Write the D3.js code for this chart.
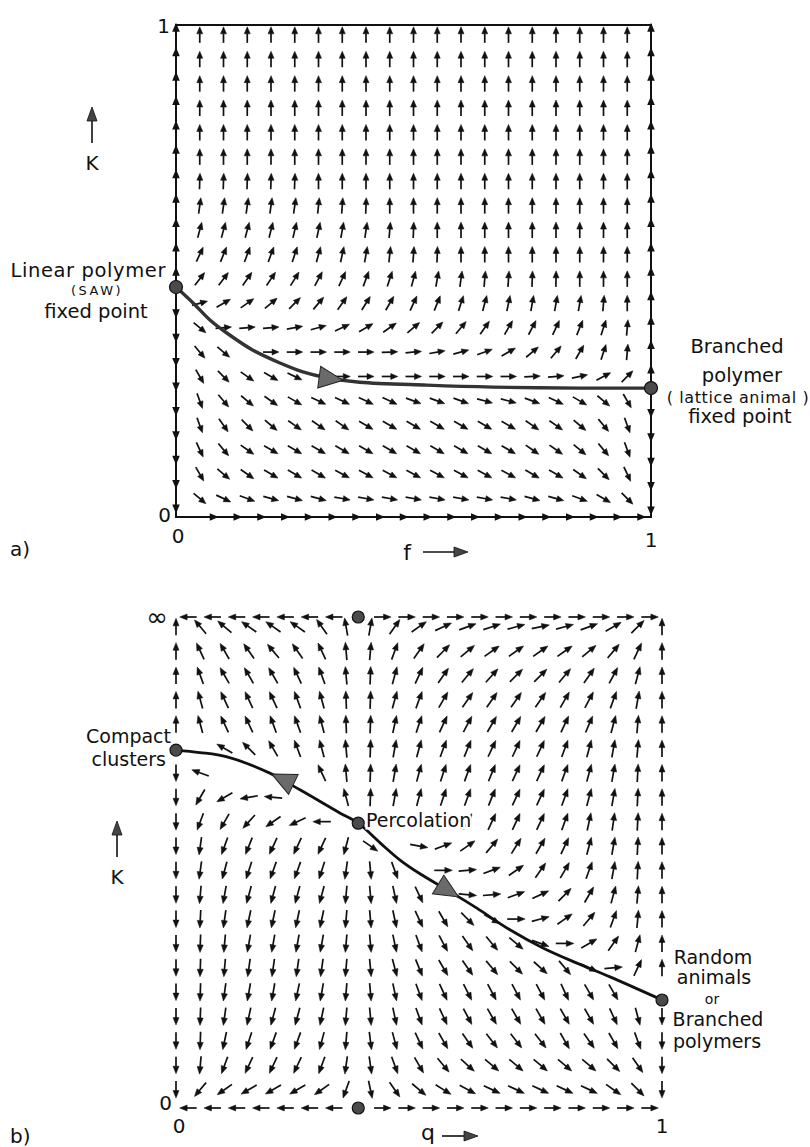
<!DOCTYPE html>
<html>
<head>
<meta charset="utf-8">
<script src="https://cdn.jsdelivr.net/npm/d3@7"></script>
<style>
  html, body { margin: 0; padding: 0; background: #fff; }
  svg { display: block; }
  text { font-family: "DejaVu Sans", sans-serif; fill: #111; }
</style>
</head>
<body>
<svg id="chart" width="810" height="1147"></svg>
<script>
// sample grid shared by both panels: 19 interior columns, 20 rows
const colsT = d3.range(1, 20).map(j => j / 20);
const rowsK = d3.range(20).map(k => 0.98 - 0.0496 * k);

// panel a: arrow directions (degrees, 0 = right, 90 = up), row by row from the top
const anglesA = [
  [90, 90, 90, 90, 90, 90, 90, 90, 90, 90, 90, 90, 90, 90, 90, 90, 90, 90, 90],
  [90, 90, 90, 90, 90, 90, 90, 90, 90, 90, 90, 90, 90, 90, 90, 90, 90, 90, 90],
  [90, 90, 90, 90, 90, 90, 90, 90, 90, 90, 90, 90, 90, 90, 90, 90, 90, 90, 90],
  [90, 90, 90, 90, 90, 90, 90, 90, 90, 90, 90, 90, 90, 90, 90, 90, 90, 90, 90],
  [90, 90, 90, 90, 90, 90, 90, 90, 90, 90, 90, 90, 90, 90, 90, 90, 90, 90, 90],
  [90, 90, 90, 90, 90, 90, 90, 90, 90, 90, 90, 90, 90, 90, 90, 90, 90, 90, 90],
  [88, 88, 88, 88, 88, 90, 90, 90, 90, 90, 90, 90, 90, 90, 90, 90, 90, 90, 90],
  [82, 82, 82, 82, 82, 84, 86, 88, 90, 90, 90, 90, 90, 90, 90, 90, 90, 90, 90],
  [75, 75, 75, 76, 77, 78, 80, 82, 85, 88, 90, 90, 90, 90, 90, 90, 90, 90, 90],
  [65, 68, 70, 70, 72, 75, 78, 80, 84, 86, 88, 90, 90, 90, 90, 90, 90, 90, 90],
  [52, 53, 55, 56, 58, 62, 65, 70, 72, 75, 80, 82, 85, 86, 88, 89, 90, 90, 90],
  [15, 30, 35, 40, 45, 50, 55, 58, 60, 65, 68, 72, 75, 78, 80, 80, 80, 85, 90],
  [-40, 5, 5, 5, 10, 15, 25, 30, 35, 40, 45, 50, 55, 60, 62, 65, 68, 72, 85],
  [-50, -40, null, 0, 0, 0, 0, 0, 2, 5, 10, 15, 20, 30, 40, 50, 60, 72, 85],
  [-60, -45, -35, -30, -25, null, 0, 0, 0, 0, 0, 0, 0, 0, 3, 5, 12, 28, 45],
  [-70, -50, -40, -35, -30, -25, -25, -25, -25, -20, -20, -20, -15, -15, -20, -25, -30, -40, -60],
  [-70, -55, -45, -40, -35, -35, -35, -30, -30, -30, -30, -30, -30, -30, -35, -35, -40, -50, -70],
  [-65, -50, -35, -30, -30, -30, -30, -30, -30, -30, -30, -30, -30, -30, -35, -35, -40, -50, -70],
  [-60, -40, -35, -30, -30, -30, -28, -28, -28, -28, -28, -28, -28, -28, -30, -30, -35, -45, -65],
  [-40, -25, -20, -15, -15, -15, -10, -10, -10, -10, -10, -10, -10, -10, -15, -15, -20, -30, -45]
];

// panel a edge flow: +1 up / right, -1 down / left
const leftEdgeA = [1, 1, 1, 1, 1, 1, 1, 1, 1, 1, 1, -1, -1, -1, -1, -1, -1, -1, -1, -1];
const rightEdgeA = [1, 1, 1, 1, 1, 1, 1, 1, 1, 1, 1, 1, 1, 1, 1, -1, -1, -1, -1, -1];
const bottomEdgeA = [1, 1, 1, 1, 1, 1, 1, 1, 1, 1, 1, 1, 1, 1, 1, 1, 1, 1, 1];

// panel a separatrix (f, K), fixed points and flow arrowhead (f, K, dir)
const curveA = [[0, 0.4675], [0.036, 0.435], [0.072, 0.400], [0.107, 0.374], [0.162, 0.339],
  [0.219, 0.313], [0.267, 0.295], [0.318, 0.283], [0.387, 0.274], [0.528, 0.268],
  [0.667, 0.264], [0.85, 0.262], [1, 0.262]];
const fixedA = [[0, 0.4675], [1, 0.262]];
const flowA = [[0.352, 0.283, 1]];

// panel b: arrow directions (degrees), row by row from the top
const anglesB = [
  [130, 140, 145, 145, 145, 125, 100, 80, 55, 35, 25, 20, 18, 15, 12, 15, 20, 30, 45],
  [115, 120, 125, 130, 125, 115, 95, 85, 70, 55, 45, 40, 35, 35, 35, 35, 40, 50, 65],
  [110, 120, 120, 120, 115, 110, 95, 88, 75, 65, 55, 50, 48, 45, 45, 50, 55, 62, 75],
  [105, 115, 115, 115, 110, 105, 92, 88, 75, 70, 60, 55, 55, 55, 55, 60, 62, 70, 80],
  [105, 115, 115, 110, 110, 105, 92, 88, 78, 72, 65, 62, 60, 60, 60, 65, 67, 75, 85],
  [null, 150, 135, 120, 110, 105, 95, 88, 80, 75, 70, 68, 65, 65, 65, 70, 75, 80, 85],
  [160, null, null, null, null, 115, 95, 88, 80, 75, 72, 70, 68, 65, 65, 70, 75, 80, 87],
  [240, 210, 190, 175, null, null, 105, 88, 80, 75, 72, 70, 68, 65, 65, 70, 75, 80, 87],
  [250, 240, 228, 215, 205, 180, null, null, 55, 55, 60, 62, 65, 65, 65, 70, 78, 82, 87],
  [262, 250, 248, 245, 245, 245, 255, 325, null, 350, 20, 35, 50, 58, 60, 65, 75, 80, 87],
  [262, 255, 252, 250, 250, 252, 262, 275, 290, null, 0, 5, 20, 35, 55, 60, 70, 80, 87],
  [265, 260, 255, 255, 255, 255, 265, 275, 282, 295, null, 355, 5, 20, 25, 45, 60, 75, 85],
  [267, 262, 258, 258, 258, 258, 265, 275, 282, 295, 300, 315, 330, 0, 15, 35, 50, 70, 85],
  [268, 265, 260, 260, 260, 260, 265, 275, 282, 290, 298, 305, 310, 320, 340, 0, 30, 55, 75],
  [268, 265, 262, 262, 262, 262, 265, 275, 285, 292, 300, 305, 310, 315, 318, 310, 335, 5, 65],
  [268, 262, 260, 260, 258, 260, 265, 275, 282, 290, 295, 297, 298, 298, 298, 295, 300, 300, null],
  [268, 262, 258, 255, 255, 258, 265, 275, 282, 290, 295, 298, 300, 300, 300, 300, 300, 295, 285],
  [268, 258, 252, 250, 250, 255, 265, 277, 285, 295, 300, 305, 308, 308, 308, 300, 305, 300, 290],
  [265, 250, 245, 245, 245, 250, 262, 278, 290, 300, 310, 318, 320, 320, 320, 320, 320, 315, 305],
  [230, 215, 210, 210, 210, 215, 250, 282, 305, 320, 328, 332, 335, 335, 335, 335, 335, 325, 315]
];

// panel b edge flow (0 = fixed point there)
const leftEdgeB = [1, 1, 1, 1, 1, 0, -1, -1, -1, -1, -1, -1, -1, -1, -1, -1, -1, -1, -1, -1];
const rightEdgeB = [1, 1, 1, 1, 1, 1, 1, 1, 1, 1, 1, 1, 1, 1, 1, 0, -1, -1, -1, -1];
const topEdgeB = [-1, -1, -1, -1, -1, -1, -1, 0, 1, 1, 1, 1, 1, 1, 1, 1, 1, 1, 1, 1];
const bottomEdgeB = [-1, -1, -1, -1, -1, -1, -1, 0, 1, 1, 1, 1, 1, 1, 1, 1, 1, 1, 1, 1];

const curveB = [[0, 0.729], [0.049, 0.724], [0.105, 0.715], [0.193, 0.682], [0.255, 0.648],
  [0.337, 0.601], [0.375, 0.58], [0.420, 0.540], [0.461, 0.505], [0.502, 0.477],
  [0.558, 0.444], [0.619, 0.407], [0.687, 0.363], [0.755, 0.326], [0.825, 0.295],
  [0.893, 0.267], [1, 0.22]];
const fixedB = [[0.375, 1], [0.375, 0], [0, 0.729], [0.375, 0.58], [1, 0.22]];
const flowB = [[0.198, 0.682, -1], [0.578, 0.424, 1]];

const svg = d3.select('#chart');

const xA = d3.scaleLinear().domain([0, 1]).range([176, 651]);
const yA = d3.scaleLinear().domain([0, 1]).range([517, 25]);
const xB = d3.scaleLinear().domain([0, 1]).range([176, 662]);
const yB = d3.scaleLinear().domain([0, 1]).range([1108, 617]);

function vectors(angles) {
  const out = [];
  angles.forEach((row, k) => row.forEach((deg, i) => {
    if (deg !== null) out.push({c: colsT[i], r: rowsK[k], deg: deg});
  }));
  return out;
}

function arrows(g, data, x, y, len, hl, hw, sw) {
  const a = g.append('g').selectAll('g').data(data).join('g')
    .attr('transform', d => `translate(${x(d.c)},${y(d.r)}) rotate(${-d.deg})`);
  a.append('line')
    .attr('x1', -len / 2).attr('x2', len / 2 - hl + 0.5)
    .attr('stroke', '#111').attr('stroke-width', sw);
  a.append('path')
    .attr('d', `M${len / 2},0L${len / 2 - hl},${-hw / 2}L${len / 2 - hl},${hw / 2}Z`)
    .attr('fill', '#111').attr('stroke', '#111').attr('stroke-width', 0.5)
    .attr('stroke-linejoin', 'round');
}

function flowCurve(g, pts, flows, x, y, stroke, sw) {
  const path = g.append('path').datum(pts)
    .attr('d', d3.line().x(d => x(d[0])).y(d => y(d[1])).curve(d3.curveCatmullRom.alpha(0.5)))
    .attr('fill', 'none').attr('stroke', stroke).attr('stroke-width', sw)
    .attr('stroke-linecap', 'round');
  const node = path.node();
  const total = node.getTotalLength();
  flows.forEach(([c, r, dir]) => {
    const px = x(c), py = y(r);
    let best = 0, bd = Infinity;
    for (let s = 0; s <= total; s += 0.5) {
      const p = node.getPointAtLength(s);
      const dd = (p.x - px) ** 2 + (p.y - py) ** 2;
      if (dd < bd) { bd = dd; best = s; }
    }
    const p0 = node.getPointAtLength(Math.max(0, best - 6));
    const p1 = node.getPointAtLength(Math.min(total, best + 6));
    const ang = Math.atan2(p1.y - p0.y, p1.x - p0.x) * 180 / Math.PI + (dir < 0 ? 180 : 0);
    const tip = node.getPointAtLength(best);
    g.append('path')
      .attr('transform', `translate(${tip.x},${tip.y}) rotate(${ang})`)
      .attr('d', 'M0,0L-24,-11L-24,11Z')
      .attr('fill', '#6a6a6a').attr('stroke', '#222').attr('stroke-width', 1);
  });
}

function fixedPoints(g, pts, x, y, r) {
  g.append('g').selectAll('circle').data(pts).join('circle')
    .attr('cx', d => x(d[0])).attr('cy', d => y(d[1])).attr('r', r)
    .attr('fill', '#4a4a4a').attr('stroke', '#111').attr('stroke-width', 1.2);
}

function label(txt, x, y, size, anchor, spacing) {
  return svg.append('text').attr('x', x).attr('y', y)
    .attr('font-size', size).attr('text-anchor', anchor || 'start')
    .attr('letter-spacing', spacing || 0).text(txt);
}

function axisArrow(x1, y1, x2, y2) {
  const ang = Math.atan2(y2 - y1, x2 - x1) * 180 / Math.PI;
  const len = Math.hypot(x2 - x1, y2 - y1);
  const g = svg.append('g').attr('transform', `translate(${x1},${y1}) rotate(${ang})`);
  g.append('line').attr('x1', 0).attr('x2', len - 10).attr('stroke', '#111').attr('stroke-width', 1.6);
  g.append('path').attr('d', `M${len},0L${len - 14},-5L${len - 14},5Z`)
    .attr('fill', '#444').attr('stroke', '#111').attr('stroke-width', 0.8);
}

// ---------- panel a ----------
const gA = svg.append('g');
gA.append('rect')
  .attr('x', xA(0)).attr('y', yA(1))
  .attr('width', xA(1) - xA(0)).attr('height', yA(0) - yA(1))
  .attr('fill', 'none').attr('stroke', '#111').attr('stroke-width', 2);

const headsA = [];
leftEdgeA.forEach((d, k) => headsA.push({px: xA(0), py: yA(rowsK[k]) + (d > 0 ? -7 : 10), rot: d > 0 ? -90 : 90}));
rightEdgeA.forEach((d, k) => headsA.push({px: xA(1), py: yA(rowsK[k]) + (d > 0 ? -7 : 12), rot: d > 0 ? -90 : 90}));
bottomEdgeA.forEach((d, i) => headsA.push({px: xA(colsT[i]) + 14, py: yA(0), rot: d > 0 ? 0 : 180}));
gA.append('g').selectAll('path').data(headsA).join('path')
  .attr('transform', d => `translate(${d.px},${d.py}) rotate(${d.rot})`)
  .attr('d', 'M5,0L-4,-3.8L-4,3.8Z').attr('fill', '#111');

arrows(gA, vectors(anglesA), xA, yA, 16, 7, 6, 1.7);
flowCurve(gA, curveA, flowA, xA, yA, '#333', 3.4);
fixedPoints(gA, fixedA, xA, yA, 6.5);

label('1', 170, 33, 20, 'end');
label('0', 171, 522, 20, 'end');
label('0', 178, 543, 20, 'middle');
label('1', 651, 547, 20, 'middle');
label('f', 407, 560, 22, 'middle');
axisArrow(423, 552, 468, 552);
axisArrow(92, 143, 92, 107);
label('K', 92, 170, 20, 'middle');
label('a)', 10, 556, 20);

label('Linear polymer', 166, 277, 19.5, 'end', 0.6);
label('(SAW)', 97, 295, 13, 'middle', 2.5);
label('fixed point', 96, 318, 19.5, 'middle');
label('Branched', 737, 353, 19.5, 'middle');
label('polymer', 742, 382, 19.5, 'middle');
label('( lattice animal )', 738, 403, 16, 'middle', 0.6);
label('fixed point', 740, 423, 19.5, 'middle');

// ---------- panel b ----------
const gB = svg.append('g');
arrows(gB, vectors(anglesB), xB, yB, 18, 7.5, 6, 1.7);

const edgeB = [];
leftEdgeB.forEach((d, k) => { if (d) edgeB.push({c: 0, r: rowsK[k], deg: d > 0 ? 90 : 270}); });
rightEdgeB.forEach((d, k) => { if (d) edgeB.push({c: 1, r: rowsK[k], deg: d > 0 ? 90 : 270}); });
topEdgeB.forEach((d, j) => { if (d) edgeB.push({c: (j + 0.5) / 20, r: 1, deg: d > 0 ? 0 : 180}); });
bottomEdgeB.forEach((d, j) => { if (d) edgeB.push({c: (j + 0.5) / 20, r: 0, deg: d > 0 ? 0 : 180}); });
arrows(gB, edgeB, xB, yB, 17, 7.5, 6, 1.7);

flowCurve(gB, curveB, flowB, xB, yB, '#111', 2.8);
fixedPoints(gB, fixedB, xB, yB, 6);

label('\u221e', 168, 626, 26, 'end');
label('0', 172, 1110, 20, 'end');
label('0', 179, 1133, 20, 'middle');
label('1', 662, 1133, 20, 'middle');
label('q', 428, 1140, 22, 'middle');
axisArrow(442, 1136, 478, 1136);
axisArrow(117, 857, 117, 821);
label('K', 117, 884, 20, 'middle');
label('b)', 10, 1143, 20);

label('Compact', 171, 743, 19, 'end');
label('clusters', 166, 766, 19, 'end');
label('Percolation', 366, 827, 19)
  .attr('stroke', '#fff').attr('stroke-width', 5).attr('paint-order', 'stroke');
label('Random', 713, 964, 19, 'middle');
label('animals', 714, 984, 19, 'middle');
label('or', 712, 1004, 14, 'middle');
label('Branched', 718, 1026, 19, 'middle');
label('polymers', 717, 1048, 19, 'middle');
</script>
</body>
</html>
